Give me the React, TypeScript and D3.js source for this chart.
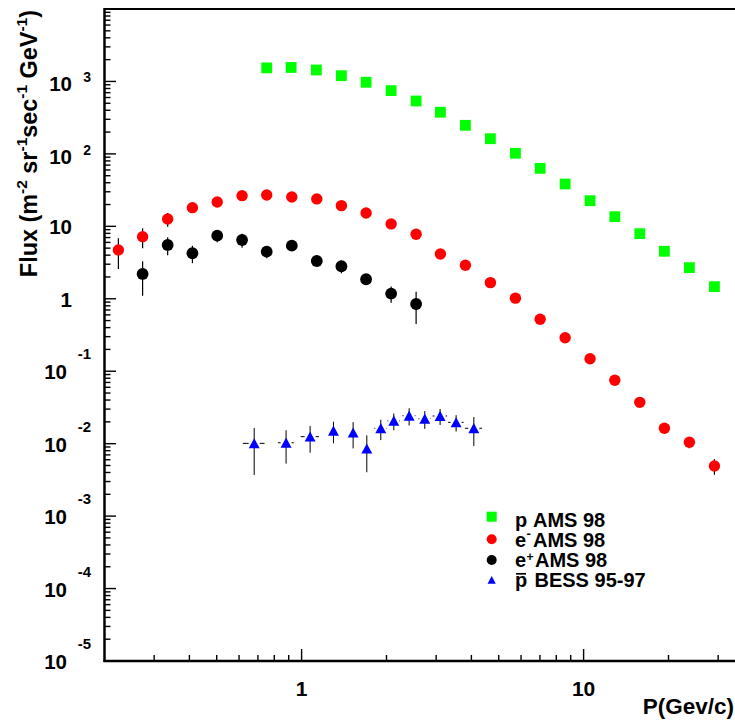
import React from "react";
import * as d3 from "d3";

// ---------- data ----------
const protonP = [0.752, 0.918, 1.128, 1.384, 1.693, 2.077, 2.547, 3.106, 3.809, 4.672, 5.731, 7.013, 8.6, 10.54, 12.9, 15.82, 19.34, 23.72, 29.1];
const protonFlux = [1540, 1560, 1440, 1200, 975, 747, 537, 376, 248, 162, 102, 63.2, 38.4, 22.6, 13.6, 7.92, 4.53, 2.69, 1.47];

const electronP = [0.224, 0.273, 0.335, 0.41, 0.502, 0.615, 0.752, 0.923, 1.132, 1.384, 1.693, 2.077, 2.547, 3.106, 3.809, 4.672, 5.731, 7.013, 8.6, 10.54, 12.9, 15.82, 19.34, 23.72, 29.1];
const electronFlux = [4.72, 7.2, 12.6, 18.1, 21.7, 26.5, 27.1, 25.4, 23.9, 19.3, 15.3, 10.8, 7.77, 4.15, 2.9, 1.67, 1.02, 0.521, 0.29, 0.149, 0.075, 0.0372, 0.0163, 0.01045, 0.00492];
const electronErr = [2.15, 2.2, 2.7, 1.5, 1.5, 1.5, 1.3, 1.2, 1.0, 0.8, 0.6, 0.45, 0.3, 0.2, 0.12, 0.07, 0.04, 0.02, 0.012, 0.006, 0.003, 0.0015, 0.0008, 0.0018, 0.0012];

const positronP = [0.273, 0.335, 0.41, 0.502, 0.615, 0.752, 0.923, 1.132, 1.384, 1.693, 2.077, 2.547];
const positronFlux = [2.2, 5.53, 4.25, 7.43, 6.48, 4.47, 5.41, 3.32, 2.81, 1.86, 1.18, 0.847];
const positronErr = [1.1, 1.55, 1.15, 1.4, 1.4, 0.85, 0.6, 0.5, 0.56, 0.3, 0.3, 0.4];

const pbarP = [0.679, 0.881, 1.072, 1.297, 1.523, 1.703, 1.909, 2.123, 2.406, 2.734, 3.098, 3.531, 4.08];
const pbarPErr = [0.06, 0.057, 0.08, 0.043, 0.05, 0.057, 0.096, 0.107, 0.127, 0.137, 0.182, 0.222, 0.286];
const pbarFlux = [0.0101, 0.0103, 0.0125, 0.0151, 0.0142, 0.00853, 0.0163, 0.0207, 0.0243, 0.0221, 0.0241, 0.0197, 0.0163];
const pbarErr = [0.0064, 0.005, 0.005, 0.005, 0.0056, 0.0045, 0.0051, 0.0054, 0.0065, 0.0061, 0.006, 0.005, 0.007];

const yDecades = [-5, -4, -3, -2, -1, 0, 1, 2, 3];
const xMajorTicks = [1, 10];
const xTickLabels = ["1", "10"];
const legendLabels = ["AMS 98", "AMS 98", "AMS 98", "BESS 95-97"];

// ---------- layout ----------
const W = 735;
const H = 722;
const left = 104.5;
const bottom = 661;
const top = 9;
const decadeX = 282;

const FONT = "'Liberation Sans', Arial, Helvetica, sans-serif";

const x = d3.scaleLog().domain([0.2, 40]).range([left, left + decadeX * Math.log10(40 / 0.2)]);
const y = d3.scaleLog().domain([1e-5, 1e4]).range([bottom, top]);

function App() {
  const xMinor: number[] = [];
  [0.1, 1, 10].forEach((d) => {
    for (let m = 2; m <= 9; m++) {
      const v = m * d;
      if (v > 0.2 && v < 40 && x(v) < W) xMinor.push(v);
    }
  });
  const yMinor: number[] = [];
  for (let k = -5; k <= 3; k++) for (let m = 2; m <= 9; m++) yMinor.push(m * Math.pow(10, k));
  const yMajor = d3.range(-5, 5).map((k) => Math.pow(10, k));

  const tri = (s: number) => `M0,${-s}L${s * 1.05},${s * 0.95}L${-s * 1.05},${s * 0.95}Z`;

  const legendY = [516.7, 539.3, 560, 580];
  const legendBase = [527, 547, 567, 587];

  return (
    <svg width={W} height={H} style={{ position: "absolute", left: 0, top: 0, display: "block", background: "#fff" }}>
      <rect x={0} y={0} width={W} height={H} fill="#fff" />
      {/* frame */}
      <line x1={left} x2={W + 10} y1={top} y2={top} stroke="#000" strokeWidth={2} />
      <line x1={left} x2={left} y1={top - 1} y2={bottom + 1} stroke="#000" strokeWidth={2.5} />
      <line x1={left - 1} x2={W + 10} y1={bottom} y2={bottom} stroke="#000" strokeWidth={2.5} />

      {/* y ticks */}
      {yMajor.map((v, i) => (
        <line key={"ym" + i} x1={left} x2={left + 11.5} y1={y(v)} y2={y(v)} stroke="#000" strokeWidth={1.4} />
      ))}
      {yMinor.map((v, i) => (
        <line key={"yn" + i} x1={left} x2={left + 6} y1={y(v)} y2={y(v)} stroke="#000" strokeWidth={1.4} />
      ))}
      {/* x ticks */}
      {xMajorTicks.map((v, i) => (
        <line key={"xm" + i} x1={x(v)} x2={x(v)} y1={bottom} y2={bottom - 12} stroke="#000" strokeWidth={1.4} />
      ))}
      {xMinor.map((v, i) => (
        <line key={"xn" + i} x1={x(v)} x2={x(v)} y1={bottom} y2={bottom - 6} stroke="#000" strokeWidth={1.4} />
      ))}

      {/* y tick labels */}
      <g fontFamily={FONT} fontWeight="bold" fill="#000">
        {yDecades.map((k) => {
          const ty = y(Math.pow(10, k));
          if (k === 0) return <text key={k} x={72} y={ty + 8} textAnchor="end" fontSize={20.5}>1</text>;
          if (k === 1) return <text key={k} x={72} y={ty + 8} textAnchor="end" fontSize={20.5}>10</text>;
          if (k > 1)
            return (
              <g key={k}>
                <text x={72} y={ty + 9.8} textAnchor="end" fontSize={20.5}>10</text>
                <text x={91} y={ty + 1} textAnchor="end" fontSize={14}>{String(k)}</text>
              </g>
            );
          return (
            <g key={k}>
              <text x={67} y={ty + 8} textAnchor="end" fontSize={20.5}>10</text>
              <text x={91} y={ty - 12} textAnchor="end" fontSize={15}>{String(k)}</text>
            </g>
          );
        })}
      </g>

      {/* x tick labels */}
      <g fontFamily={FONT} fontWeight="bold" fill="#000">
        {xMajorTicks.map((v, i) => (
          <text key={i} x={x(v)} y={696} textAnchor="middle" fontSize={21}>{xTickLabels[i]}</text>
        ))}
        <text x={734} y={714} textAnchor="end" fontSize={22.5}>P(Gev/c)</text>
      </g>

      {/* y title */}
      <text
        transform={`translate(37,10) rotate(-90)`}
        textAnchor="end"
        fontFamily={FONT}
        fontWeight="bold"
        fontSize={23.4}
        fill="#000"
      >
        <tspan>Flux (m</tspan>
        <tspan fontSize={15.5} dy={-10}>-2</tspan>
        <tspan dy={10}> sr</tspan>
        <tspan fontSize={15.5} dy={-10}>-1</tspan>
        <tspan dy={10}>sec</tspan>
        <tspan fontSize={15.5} dy={-10}>-1</tspan>
        <tspan dy={10}> GeV</tspan>
        <tspan fontSize={15.5} dy={-10}>-1</tspan>
        <tspan dy={10}>)</tspan>
      </text>

      {/* error bars */}
      {electronP.map((p, i) => (
        <line key={"ee" + i} x1={x(p)} x2={x(p)} y1={y(electronFlux[i] + electronErr[i])} y2={y(electronFlux[i] - electronErr[i])} stroke="#000" strokeWidth={1.2} />
      ))}
      {positronP.map((p, i) => (
        <line key={"pe" + i} x1={x(p)} x2={x(p)} y1={y(positronFlux[i] + positronErr[i])} y2={y(positronFlux[i] - positronErr[i])} stroke="#000" strokeWidth={1.2} />
      ))}
      {pbarP.map((p, i) => {
        const cx = x(p);
        const cy = y(pbarFlux[i]);
        const xl = x(p - pbarPErr[i]);
        const xr = x(p + pbarPErr[i]);
        const gap = 5.5;
        return (
          <g key={"be" + i} stroke="#000" strokeWidth={1}>
            <line x1={cx} x2={cx} y1={y(pbarFlux[i] + pbarErr[i])} y2={y(pbarFlux[i] - pbarErr[i])} />
            {cx - xl > gap && <line x1={xl} x2={cx - gap} y1={cy} y2={cy} />}
            {xr - cx > gap && <line x1={cx + gap} x2={xr} y1={cy} y2={cy} />}
          </g>
        );
      })}

      {/* markers */}
      {protonP.map((p, i) => (
        <rect key={"pm" + i} x={x(p) - 5.4} y={y(protonFlux[i]) - 5.4} width={10.8} height={10.8} fill="#00ff00" />
      ))}
      {electronP.map((p, i) => (
        <circle key={"em" + i} cx={x(p)} cy={y(electronFlux[i])} r={5.7} fill="#ff0000" />
      ))}
      {positronP.map((p, i) => (
        <circle key={"km" + i} cx={x(p)} cy={y(positronFlux[i])} r={5.9} fill="#000" />
      ))}
      {pbarP.map((p, i) => (
        <path key={"bm" + i} d={tri(5.2)} transform={`translate(${x(p)},${y(pbarFlux[i])})`} fill="#0000ff" />
      ))}

      {/* legend */}
      <g>
        <rect x={491.7 - 5} y={legendY[0] - 5} width={10} height={10} fill="#00ff00" />
        <circle cx={491.7} cy={legendY[1]} r={5} fill="#ff0000" />
        <circle cx={491.7} cy={legendY[2]} r={5} fill="#000" />
        <path d={tri(3.9)} transform={`translate(491.7,${legendY[3]})`} fill="#0000ff" />
      </g>
      <g fontFamily={FONT} fontWeight="bold" fill="#000" fontSize={20}>
        <text x={515} y={legendBase[0]}>p</text>
        <text x={533} y={legendBase[0]}>{legendLabels[0]}</text>
        <text x={515} y={legendBase[1]}>e</text>
        <text x={526.6} y={legendBase[1] - 9} fontSize={13}>-</text>
        <text x={533} y={legendBase[1]}>{legendLabels[1]}</text>
        <text x={515} y={legendBase[2]}>e</text>
        <text x={526.6} y={legendBase[2] - 6} fontSize={12}>+</text>
        <text x={535} y={legendBase[2]}>{legendLabels[2]}</text>
        <text x={515} y={legendBase[3]}>p</text>
        <line x1={516} x2={526} y1={573.8} y2={573.8} stroke="#000" strokeWidth={1.7} />
        <text x={534.5} y={legendBase[3]}>{legendLabels[3]}</text>
      </g>
    </svg>
  );
}

export default App;
